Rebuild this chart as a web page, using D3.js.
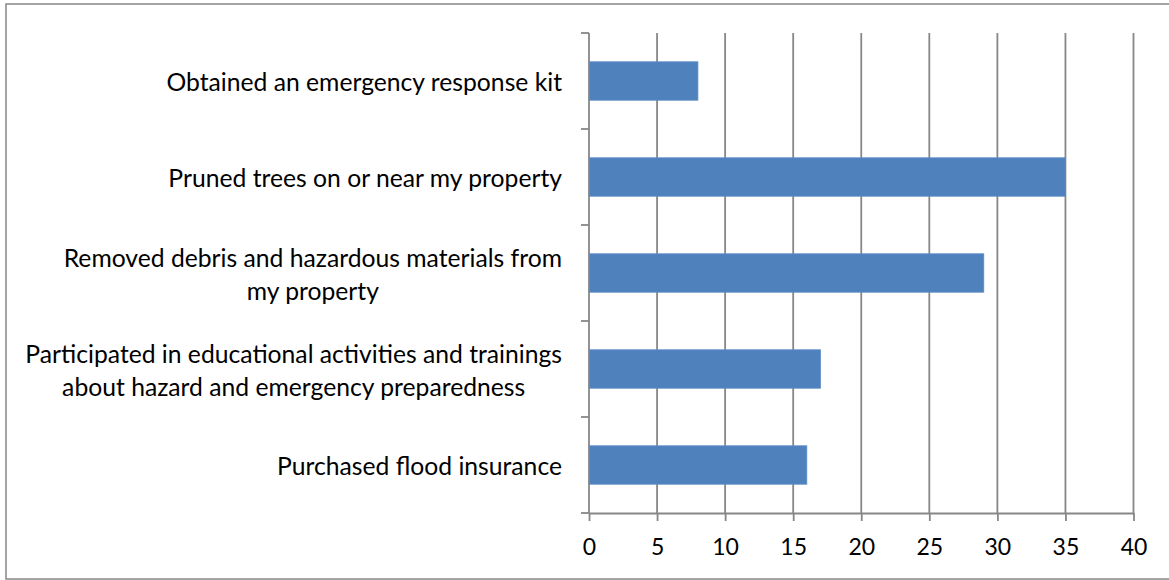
<!DOCTYPE html>
<html><head><meta charset="utf-8">
<script src="https://cdn.jsdelivr.net/npm/d3@7"></script>
<style>
html,body{margin:0;padding:0;background:#fff;}
svg{display:block;}
text{font-family:Lato,"Open Sans",sans-serif;fill:#000;}
</style></head>
<body><svg id="c" width="1169" height="580"></svg>
<script>
const categories = [
  ["Obtained an emergency response kit"],
  ["Pruned trees on or near my property"],
  ["Removed debris and hazardous materials from","my property"],
  ["Participated in educational activities and trainings","about hazard and emergency preparedness"],
  ["Purchased flood insurance"]
];
const values = [8, 35, 29, 17, 16];
const xTicks = [0,5,10,15,20,25,30,35,40];

const svg = d3.select("#c");
const grey = "#878787";
svg.append("rect").attr("x",6).attr("y",4).attr("width",1200).attr("height",575)
  .attr("fill","none").attr("stroke",grey).attr("stroke-width",1.5);

const x = d3.scaleLinear().domain([0,40]).range([589,1133.5]);
const y = d3.scaleBand().domain(d3.range(categories.length)).range([33,513])
  .paddingInner(0.6).paddingOuter(0.3);

// label font size fitted so the longest label line spans ~537px
const probe = svg.append("text").attr("font-size",20).text(categories[3][0]);
const fs = 20 * 537 / probe.node().getComputedTextLength();
probe.remove();

svg.append("g").selectAll("line").data(xTicks.slice(1)).join("line")
  .attr("x1",d=>x(d)).attr("x2",d=>x(d)).attr("y1",33).attr("y2",513)
  .attr("stroke",grey).attr("stroke-width",1.8);

svg.append("g").selectAll("rect").data(values).join("rect")
  .attr("x",x(0)).attr("y",(d,i)=>y(i)).attr("width",d=>x(d)-x(0)).attr("height",y.bandwidth())
  .attr("fill","#4F81BD").attr("stroke","#5a8ac4").attr("stroke-width",0.8);

const tfs = 23;
const xa = svg.append("g").attr("transform","translate(0,513)")
  .call(d3.axisBottom(x).tickValues(xTicks).tickSize(8).tickPadding(42-8-0.71*tfs).tickSizeOuter(0));
xa.select(".domain").attr("stroke",grey).attr("stroke-width",1.8);
xa.selectAll(".tick line").attr("stroke",grey).attr("stroke-width",1.8);
xa.selectAll(".tick text").attr("font-size",tfs).attr("font-family","Lato").attr("fill","#000");

svg.append("line").attr("x1",589).attr("x2",589).attr("y1",33).attr("y2",513)
  .attr("stroke",grey).attr("stroke-width",1.8);
const bounds = d3.range(categories.length+1).map(i=>33+i*y.step());
svg.append("g").selectAll("line").data(bounds).join("line")
  .attr("x1",581).attr("x2",589).attr("y1",d=>d).attr("y2",d=>d)
  .attr("stroke",grey).attr("stroke-width",1.8);

const lh = 33;
const lg = svg.append("g");
categories.forEach((lines,i)=>{
  const cy = y(i)+y.bandwidth()/2;
  const t = lg.append("text").attr("font-size",fs).attr("dominant-baseline","central");
  lines.forEach((ln,j)=>{
    t.append("tspan").text(ln).attr("y", cy + (j-(lines.length-1)/2)*lh);
  });
  const ws = t.selectAll("tspan").nodes().map(n=>n.getComputedTextLength());
  const mw = d3.max(ws);
  t.selectAll("tspan").attr("x",(d,j)=>562 - mw/2 - ws[j]/2);
});
</script></body></html>
